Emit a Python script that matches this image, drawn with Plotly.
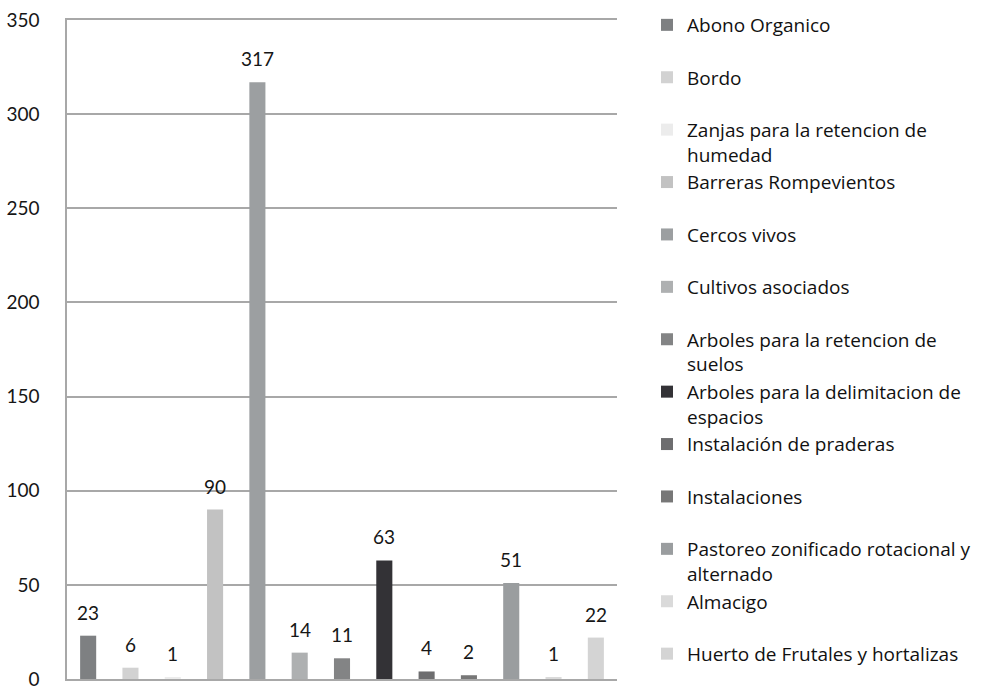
import plotly.graph_objects as go

categories = [
    "Abono Organico",
    "Bordo",
    "Zanjas para la retencion de humedad",
    "Barreras Rompevientos",
    "Cercos vivos",
    "Cultivos asociados",
    "Arboles para la retencion de suelos",
    "Arboles para la delimitacion de espacios",
    "Instalación de praderas",
    "Instalaciones",
    "Pastoreo zonificado rotacional y alternado",
    "Almacigo",
    "Huerto de Frutales y hortalizas",
]
values = [23, 6, 1, 90, 317, 14, 11, 63, 4, 2, 51, 1, 22]

# legend text, wrapped the way the labels break in the key
legend_labels = [
    "Abono Organico",
    "Bordo",
    "Zanjas para la retencion de<br>humedad",
    "Barreras Rompevientos",
    "Cercos vivos",
    "Cultivos asociados",
    "Arboles para la retencion de<br>suelos",
    "Arboles para la delimitacion de<br>espacios",
    "Instalación de praderas",
    "Instalaciones",
    "Pastoreo zonificado rotacional y<br>alternado",
    "Almacigo",
    "Huerto de Frutales y hortalizas",
]

colors = [
    "#7e8082", "#d2d2d2", "#ececec", "#c2c2c2", "#9c9fa1", "#aeb0b1",
    "#838485", "#333236", "#6d6d6f", "#777777", "#9a9d9f", "#dadada",
    "#d4d4d4",
]

FONT = "Lato"
LEGEND_FONT = "Open Sans"
GRID = "#a8a8a8"

fig = go.Figure()
last = len(categories) - 1
for i, (cat, val, lab, col) in enumerate(zip(categories, values, legend_labels, colors)):
    # key entries occupy two lines so the slots are evenly spaced
    name = lab if ("<br>" in lab or i == last) else lab + "<br> "
    fig.add_trace(go.Bar(
        x=[cat], y=[val], name=name, marker_color=col,
        marker_line_width=0, width=0.38, legendgroup=cat,
    ))

for cat, val in zip(categories, values):
    fig.add_annotation(
        x=cat, y=val, text=str(val), showarrow=False,
        yanchor="bottom", yshift=10,
        font=dict(family=FONT, size=19, color="#161616"),
    )

fig.update_layout(
    width=988, height=688,
    margin=dict(l=67, r=371, t=20, b=9, autoexpand=False),
    paper_bgcolor="white", plot_bgcolor="white",
    barmode="overlay",
    font=dict(family=FONT, size=19, color="#161616"),
    showlegend=True,
    legend=dict(
        x=647 / 988, xref="container", xanchor="left",
        y=1 - 6 / 688, yref="container", yanchor="top",
        font=dict(family=LEGEND_FONT, size=19, color="#111111"),
        valign="top", tracegroupgap=0, itemclick=False,
        maxheight=1, bgcolor="rgba(0,0,0,0)",
    ),
    xaxis=dict(
        type="category", categoryorder="array", categoryarray=categories,
        range=[-0.5, len(categories) - 0.5],
        showticklabels=False, showgrid=False, zeroline=False,
        showline=True, mirror=True, linecolor=GRID, linewidth=1.5, ticks="",
    ),
    yaxis=dict(
        range=[0, 350], tickvals=[0, 50, 100, 150, 200, 250, 300, 350],
        showgrid=True, gridcolor=GRID, gridwidth=1.5,
        zeroline=False, showline=True, linecolor=GRID, linewidth=1.5,
        ticks="", ticklabelstandoff=22, ticklabeloverflow="allow",
        tickfont=dict(family=FONT, size=19, color="#161616"),
    ),
)

fig.write_html("out.html")
